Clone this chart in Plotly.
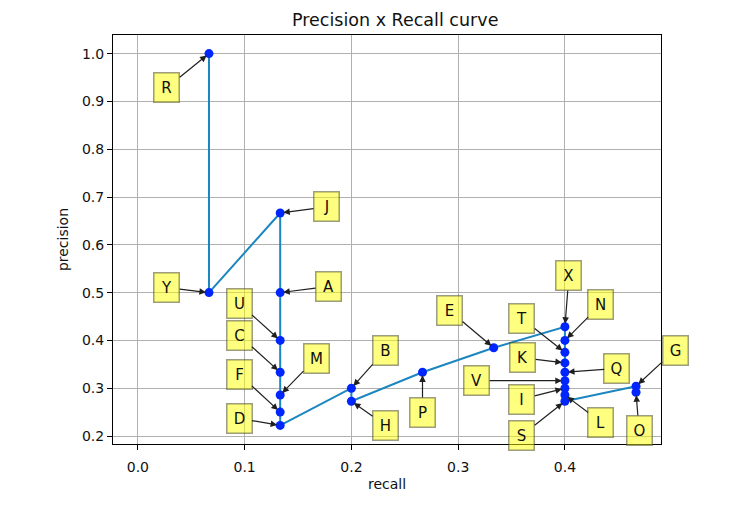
import plotly.graph_objects as go

labels = ["R", "Y", "J", "A", "U", "C", "M", "F", "D", "B", "H", "P",
          "E", "X", "N", "T", "K", "Q", "V", "I", "L", "S", "G", "O"]
recall = [0.0666, 0.0666, 0.1333, 0.1333, 0.1333, 0.1333, 0.1333, 0.1333,
          0.1333, 0.2, 0.2, 0.2666, 0.3333, 0.4, 0.4, 0.4, 0.4, 0.4, 0.4,
          0.4, 0.4, 0.4, 0.4666, 0.4666]
precision = [1.0, 0.5, 0.6666, 0.5, 0.4, 0.3333, 0.2857, 0.25, 0.2222, 0.3,
             0.2727, 0.3333, 0.3846, 0.4285, 0.4, 0.375, 0.3529, 0.3333,
             0.3157, 0.3, 0.2857, 0.2727, 0.3043, 0.2916]

# label box offsets (pixels) relative to each point
offset_x = [-42, -42, 46, 48, -41, -41, 36, -41, -41, 34, 34, 0,
            -44, 4, 36, -43, -42, 52, -88, -43, 36, -43, 39, 3]
offset_y = [34, -5, -6, -6, -37, -37, -37, -38, -7, -38, 24, 40,
            -37, -51, -36, -34, -5, -4, 0, 11, 27, 34, -36, 38]

FONT = "DejaVu Sans"

fig = go.Figure()
fig.add_trace(go.Scatter(
    x=recall, y=precision, mode="lines",
    line=dict(color="#1b86bf", width=2), showlegend=False, hoverinfo="skip"))
fig.add_trace(go.Scatter(
    x=recall, y=precision, mode="markers", text=labels,
    marker=dict(color="#0026ff", size=9), showlegend=False))

for lab, r, p, dx, dy in zip(labels, recall, precision, offset_x, offset_y):
    fig.add_annotation(
        x=r, y=p, xref="x", yref="y", text=lab, showarrow=True,
        ax=dx, ay=dy, arrowhead=2, arrowsize=1.1, arrowwidth=1.2,
        arrowcolor="#202020", standoff=3,
        font=dict(family=FONT, size=15, color="#111111"),
        bgcolor="rgba(255,255,0,0.5)", bordercolor="rgba(60,60,40,0.5)",
        borderwidth=1.5, borderpad=5, width=14, height=18)

axis_common = dict(
    showgrid=True, gridcolor="#b0b0b0", gridwidth=1,
    showline=True, linecolor="black", linewidth=1, mirror=True,
    ticks="outside", ticklen=5, tickcolor="black", zeroline=False,
    automargin=False,
    tickfont=dict(family=FONT, size=14, color="#111111"))

fig.update_xaxes(range=[-0.0233, 0.49], tickvals=[0, 0.1, 0.2, 0.3, 0.4],
                 ticktext=["0.0", "0.1", "0.2", "0.3", "0.4"],
                 ticklabelstandoff=5,
                 title=dict(text="recall", standoff=5,
                            font=dict(family=FONT, size=14, color="#111111")),
                 **axis_common)
fig.update_yaxes(range=[0.1833, 1.0389],
                 tickvals=[0.2, 0.3, 0.4, 0.5, 0.6, 0.7, 0.8, 0.9, 1.0],
                 ticktext=["0.2", "0.3", "0.4", "0.5", "0.6", "0.7", "0.8", "0.9", "1.0"],
                 title=dict(text="precision", standoff=10,
                            font=dict(family=FONT, size=14, color="#111111")),
                 **axis_common)

fig.update_layout(
    width=745, height=518,
    margin=dict(l=105, r=92, t=27, b=82, autoexpand=False),
    paper_bgcolor="white", plot_bgcolor="white",
    title=dict(text="Precision x Recall curve", x=0.515, xanchor="center",
               xref="paper", y=1, yref="paper", yanchor="bottom",
               pad=dict(b=9), automargin=False,
               font=dict(family=FONT, size=17.5, color="#111111")),
    showlegend=False)

fig.write_html("out.html")
